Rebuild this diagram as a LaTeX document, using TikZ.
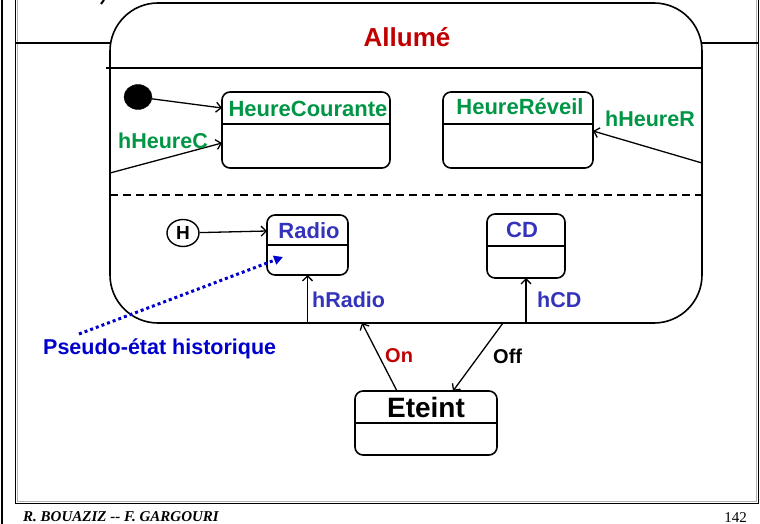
\documentclass[tikz,border=0pt]{standalone}
\usepackage{fontspec}
\setmainfont{Liberation Sans}
\newfontfamily\footfont{Liberation Serif}
\usetikzlibrary{arrows.meta,calc,shapes.geometric}
\definecolor{tgreen}{RGB}{0,150,70}
\definecolor{tblue}{RGB}{51,51,187}
\definecolor{pblue}{RGB}{0,0,204}
\definecolor{tred}{RGB}{192,0,0}
\begin{document}
\begin{tikzpicture}[x=1pt,y=-1pt,
  box/.style={draw, line width=1.6pt, rounded corners=8pt, inner sep=0pt, outer sep=0pt},
  lbl/.style={font=\bfseries\fontsize{21.5}{21.5}\selectfont, anchor=base west, inner sep=0pt},
  ctitle/.style={font=\bfseries\fontsize{22}{22}\selectfont, anchor=base, inner sep=0pt},
  conn/.style={line width=1.3pt, -{Straight Barb[length=5pt,width=10pt,line width=1.3pt]}},
  divider/.style={line width=1.6pt}]
\useasboundingbox (0,0) rectangle (760,524);
% frame
\draw[line width=1.5pt] (2,0) -- (2,524);
\draw[gray!60, line width=1pt] (17.5,0) -- (17.5,501.5) -- (756,501.5) -- (756,0);
\draw[line width=1.6pt] (15.5,0) -- (15.5,503.5) -- (758.5,503.5) -- (758.5,0);
\draw[line width=2pt] (104,0) -- (101,4);
% composite state
\node[draw, line width=1.6pt, rounded corners=48pt, minimum width=592pt, minimum height=320pt, inner sep=0pt, outer sep=0pt] (allume) at (406,163) {};
\draw[line width=1.5pt] (15.5,43) -- (allume.west |- 0,43);
\draw[line width=1.5pt] (allume.east |- 0,43) -- (758.5,43);
\draw[line width=2.2pt] (106,68) -- (allume.east |- 0,68);
\draw[line width=1.4pt, dash pattern=on 8pt off 5pt] (allume.west |- 0,195) -- (allume.east |- 0,195);
\node[font=\bfseries\fontsize{26}{26}\selectfont, text=tred, anchor=base, inner sep=0pt] (allumet) at (407,47) {Allumé};
% upper region
\node[draw, fill=black, ellipse, minimum width=28pt, minimum height=25pt, inner sep=0pt] (init) at (138,97) {};
\node[box, minimum width=168pt, minimum height=76pt] (hc) at (306,130) {};
\draw[divider] (hc.west |- 0,124) -- (hc.east |- 0,124);
\node[ctitle, text=tgreen] (hct) at (308,117) {HeureCourante};
\node[box, minimum width=150pt, minimum height=76pt] (hr) at (518,130) {};
\draw[divider] (hr.west |- 0,124) -- (hr.east |- 0,124);
\node[ctitle, text=tgreen] (hrt) at (520,115) {HeureRéveil};
\draw[conn] (init) -- (hc.west |- 0,108);
\coordinate (hcs) at (110,173);
\draw[conn] (hcs) -- (hc.west |- 0,143);
\node[lbl, text=tgreen] (hcl) at (118,148) {hHeureC};
\coordinate (hrs) at (702,163);
\draw[conn] (hrs) -- (hr.east |- 0,131);
\node[lbl, text=tgreen] (hrl) at (605,127) {hHeureR};
% lower region
\node[box, minimum width=81pt, minimum height=60pt] (radio) at (307.5,245) {};
\draw[divider] (radio.west |- 0,245) -- (radio.east |- 0,245);
\node[ctitle, text=tblue] (radiot) at (309,238) {Radio};
\node[box, minimum width=78pt, minimum height=64pt] (cd) at (526,246) {};
\draw[divider] (cd.west |- 0,246) -- (cd.east |- 0,246);
\node[ctitle, text=tblue] (cdt) at (522,237) {CD};
\node[draw, ellipse, line width=1.4pt, minimum width=32pt, minimum height=27pt, inner sep=0pt, font=\bfseries\fontsize{19}{19}\selectfont] (hist) at (183,233) {H};
\draw[conn] (hist) -- (radio.west |- 0,231);
\draw[conn] (radio.south |- allume.south) -- (radio.south);
\node[lbl, text=tblue] (hradio) at (312,307) {hRadio};
\draw[conn] (cd.south |- allume.south) -- (cd.south);
\node[lbl, text=tblue] (hcd) at (537,307) {hCD};
% Eteint
\node[box, minimum width=142pt, minimum height=64pt] (eteint) at (426,423) {};
\draw[divider] (eteint.west |- 0,423) -- (eteint.east |- 0,423);
\node[font=\bfseries\fontsize{28}{28}\selectfont, anchor=base, inner sep=0pt] (eteintt) at (426,417) {Eteint};
\coordinate (onend) at (362,323);
\draw[conn] (eteint.north -| 397,0) -- (onend);
\node[lbl, text=tred, font=\bfseries\fontsize{20}{20}\selectfont] (onl) at (385,362) {On};
\coordinate (offst) at (503,323);
\draw[conn] (offst) -- (eteint.north -| 453,0);
\node[lbl, font=\bfseries\fontsize{20}{20}\selectfont] (offl) at (493,363) {Off};
% pseudo-state annotation
\node[lbl, text=pblue] (pseudo) at (43,354) {Pseudo-état historique};
\coordinate (pstart) at (79,334);
\coordinate (pend) at (283,257);
\draw[pblue, line width=3pt, dash pattern=on 3pt off 3pt, -{Triangle[length=9pt,width=9pt]}] (pstart) -- (pend);
% footer
\node[font=\footfont\bfseries\itshape\fontsize{15}{15}\selectfont, anchor=base west, inner sep=0pt] (auth) at (23,521.5) {R. BOUAZIZ -{}- F. GARGOURI};
\node[font=\footfont\fontsize{15}{15}\selectfont, anchor=base east, inner sep=0pt] (page) at (747,522) {142};
\end{tikzpicture}
\end{document}
